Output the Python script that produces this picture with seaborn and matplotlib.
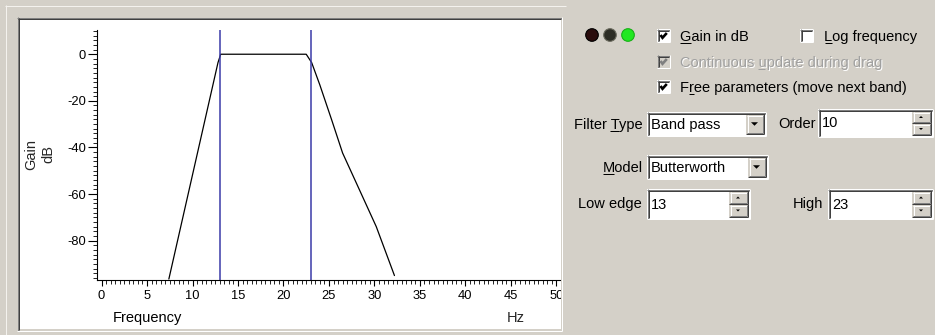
import numpy as np
import matplotlib
matplotlib.use('Agg')
import matplotlib.pyplot as plt
from matplotlib.patches import Rectangle, Circle, Polygon
from matplotlib.font_manager import FontProperties
from matplotlib.textpath import TextPath
import seaborn as sns

# filter response
freq_hz = [7.4, 12.8, 13.1, 22.5, 23.1, 24.0, 25.3, 26.5, 28.0, 30.2, 32.2]
gain_db = [-96.5, -3.6, 0.0, 0.0, -3.6, -13.2, -28.2, -42.4, -55.2, -74.0, -95.0]
band_edges = [13, 23]

x_ticks = [0, 5, 10, 15, 20, 25, 30, 35, 40, 45, 50]
y_ticks = [-80, -60, -40, -20, 0]

# dialog settings
filter_type = 'Band pass'
model = 'Butterworth'
order = '10'
low_edge = '13'
high_edge = '23'

W, H = 935, 335
GRAY = '#d4d0c8'
FONT = 'Liberation Sans'
FS = 10.5

sns.set_style('white')
plt.rcParams['font.family'] = [FONT, 'DejaVu Sans']
plt.rcParams.update({
    'axes.unicode_minus': False, 'axes.axisbelow': False,
    'axes.edgecolor': 'black',
    'xtick.bottom': True, 'ytick.left': True,
    'xtick.color': 'black', 'ytick.color': 'black',
    'xtick.direction': 'out', 'ytick.direction': 'out',
    'xtick.major.size': 4.3, 'xtick.minor.size': 2.9,
    'ytick.major.size': 6.5, 'ytick.minor.size': 2.9,
    'xtick.major.pad': 3.6, 'ytick.major.pad': 1.5,
    'xtick.labelsize': 9.3, 'ytick.labelsize': 9.3,
})

fig = plt.figure(figsize=(W / 100, H / 100), dpi=100, facecolor=GRAY)

# background layer: white plot panel
bg = fig.add_axes([0, 0, 1, 1], zorder=0)
bg.set_xlim(0, W)
bg.set_ylim(H, 0)
bg.axis('off')
bg.add_patch(Rectangle((18, 18), 543, 311, facecolor='white', edgecolor='none'))

# the chart itself
ax = fig.add_axes([97 / W, (H - 279.5) / H, 463 / W, 249.5 / H], zorder=1)
ax.patch.set_alpha(0)
sns.lineplot(x=freq_hz, y=gain_db, ax=ax, color='black', linewidth=0.9,
             estimator=None, sort=False)
for e in band_edges:
    ax.axvline(e, color='#3a3aa8', linewidth=1.1)

ax.set_xlim(-0.5, 50.4)
ax.set_ylim(-96.7, 10.4)
ax.set_xticks(x_ticks)
ax.set_xticks(np.arange(0, 50.5, 0.5), minor=True)
ax.set_yticks(y_ticks)
ax.set_yticks(np.arange(-96, 11, 2), minor=True)
ax.spines['top'].set_visible(False)
ax.spines['right'].set_visible(False)
ax.set_xlabel('')
ax.set_ylabel('')

# foreground layer: dialog controls + panel frame
ui = fig.add_axes([0, 0, 1, 1], zorder=2)
ui.set_xlim(0, W)
ui.set_ylim(H, 0)
ui.axis('off')
ui.patch.set_alpha(0)
ui.add_patch(Rectangle((561, 0), W - 561, H, facecolor=GRAY, edgecolor='none'))
ui.add_patch(Rectangle((0, 330), 561, 5, facecolor=GRAY, edgecolor='none'))

LW = 0.72


def hline(x0, x1, y, c, lw=LW):
    ui.plot([x0, x1], [y + 0.5, y + 0.5], color=c, lw=lw, solid_capstyle='butt')


def vline(x, y0, y1, c, lw=LW):
    ui.plot([x + 0.5, x + 0.5], [y0, y1], color=c, lw=lw, solid_capstyle='butt')


def sunken(x0, y0, x1, y1, face='white'):
    ui.add_patch(Rectangle((x0, y0), x1 - x0, y1 - y0, facecolor=face, edgecolor='none'))
    hline(x0, x1, y0, '#808080')
    vline(x0, y0, y1, '#808080')
    hline(x0 + 1, x1 - 1, y0 + 1, '#404040')
    vline(x0 + 1, y0 + 1, y1 - 1, '#404040')
    hline(x0, x1, y1 - 1, 'white')
    vline(x1 - 1, y0, y1, 'white')


def raised(x0, y0, x1, y1):
    ui.add_patch(Rectangle((x0, y0), x1 - x0, y1 - y0, facecolor=GRAY, edgecolor='none'))
    hline(x0 + 1, x1 - 1, y0 + 1, 'white')
    vline(x0 + 1, y0 + 1, y1 - 1, 'white')
    hline(x0, x1, y1 - 1, '#404040')
    vline(x1 - 1, y0, y1, '#404040')
    hline(x0 + 1, x1 - 1, y1 - 2, '#808080')
    vline(x1 - 2, y0 + 1, y1 - 1, '#808080')


def arrow(cx, cy, size, up=False):
    if up:
        pts = [[cx - size, cy + size / 2], [cx + size, cy + size / 2], [cx, cy - size / 2]]
    else:
        pts = [[cx - size, cy - size / 2], [cx + size, cy - size / 2], [cx, cy + size / 2]]
    ui.add_patch(Polygon(pts, closed=True, facecolor='black', edgecolor='none'))


fp = FontProperties(family=FONT, size=FS)


def ink(s):
    # left/right of the glyph ink in pixels, measured from the text origin
    ext = TextPath((0, 0), s, prop=fp).get_extents()
    return ext.x0 * 100 / 72, ext.x1 * 100 / 72


def label(x, yb, s, ul=None, ha='left', color='black', shadow=False):
    x0 = x if ha == 'left' else x - ink(s)[1]
    if shadow:
        ui.text(x0 + 1, yb + 1, s, ha='left', va='baseline', fontproperties=fp, color='white')
    ui.text(x0, yb, s, ha='left', va='baseline', fontproperties=fp, color=color)
    if ul is not None:
        right = ink(s[:ul + 1])[1]
        c0, c1 = ink(s[ul])
        hline(x0 + right - (c1 - c0) - 0.5, x0 + right + 0.5, yb + 1, color)


def checkbox(x0, y0, checked, disabled=False):
    sunken(x0, y0, x0 + 13, y0 + 13, face=GRAY if disabled else 'white')
    if checked:
        ui.plot([x0 + 3.5, x0 + 5.5, x0 + 9.8], [y0 + 6.0, y0 + 8.8, y0 + 4.0],
                color='#808080' if disabled else 'black', lw=1.9,
                solid_capstyle='butt', solid_joinstyle='miter')


def spinbox(x0, y0, x1, y1, text):
    sunken(x0, y0, x1, y1)
    label(x0 + 4, y1 - 10, text)
    bx0, bx1 = x1 - 21, x1 - 2
    mid = (y0 + y1) / 2
    raised(bx0, y0 + 2, bx1, mid)
    raised(bx0, mid, bx1, y1 - 2)
    arrow((bx0 + bx1) / 2 - 0.5, (y0 + 2 + mid) / 2, 2.0, up=True)
    arrow((bx0 + bx1) / 2 - 0.5, (mid + y1 - 2) / 2, 2.0)


def combo(x0, y0, x1, y1, text):
    sunken(x0, y0, x1, y1)
    label(x0 + 4, y1 - 7, text)
    raised(x1 - 20, y0 + 2, x1 - 2, y1 - 2)
    arrow(x1 - 11.5, (y0 + y1) / 2, 3.5)


# panel frame
vline(5, 5, 335, '#f4f2ee')
hline(5, 566, 5, '#f4f2ee')
hline(17, 562, 17, '#808080')
vline(17, 17, 331, '#808080')
hline(18, 561, 18, '#404040')
vline(18, 18, 330, '#404040')
vline(561, 17, 331, 'white')
hline(17, 562, 330, 'white')

# axis titles
ui.text(31, 154, 'Gain', rotation=90, ha='center', va='center', fontproperties=fp)
ui.text(48, 154, 'dB', rotation=90, ha='center', va='center', fontproperties=fp)
label(113, 322, 'Frequency')
ui.text(516, 322, 'Hz', ha='center', va='baseline', fontproperties=fp)

# status LEDs
for cx, face, edge in [(592, '#2a0c0c', '#000000'), (610, '#2c2c24', '#6a6a5e'),
                       (628, '#22e822', '#18b018')]:
    ui.add_patch(Circle((cx, 35), 6.3, facecolor=face, edgecolor=edge, lw=0.8))

# check boxes
checkbox(657, 29, True)
label(680, 41, 'Gain in dB', ul=0)
checkbox(800, 29, False)
label(824, 41, 'Log frequency', ul=0)
checkbox(657, 55, True, disabled=True)
label(680, 67, 'Continuous update during drag', ul=11, color='#a0a0a0', shadow=True)
checkbox(657, 80, True)
label(680, 92, 'Free parameters (move next band)', ul=1)

# filter type / order
label(641, 129, 'Filter Type', ul=7, ha='right')
combo(647, 112, 766, 136, filter_type)
label(815, 128, 'Order', ha='right')
spinbox(818, 109, 933, 137, order)

# model
label(641, 172, 'Model', ul=0, ha='right')
combo(647, 155, 768, 179, model)

# band edges
label(641, 208, 'Low edge', ha='right')
spinbox(647, 189, 750, 219, low_edge)
label(822, 208, 'High', ha='right')
spinbox(828, 189, 933, 219, high_edge)

fig.savefig('out.png', dpi=100, facecolor=GRAY)
